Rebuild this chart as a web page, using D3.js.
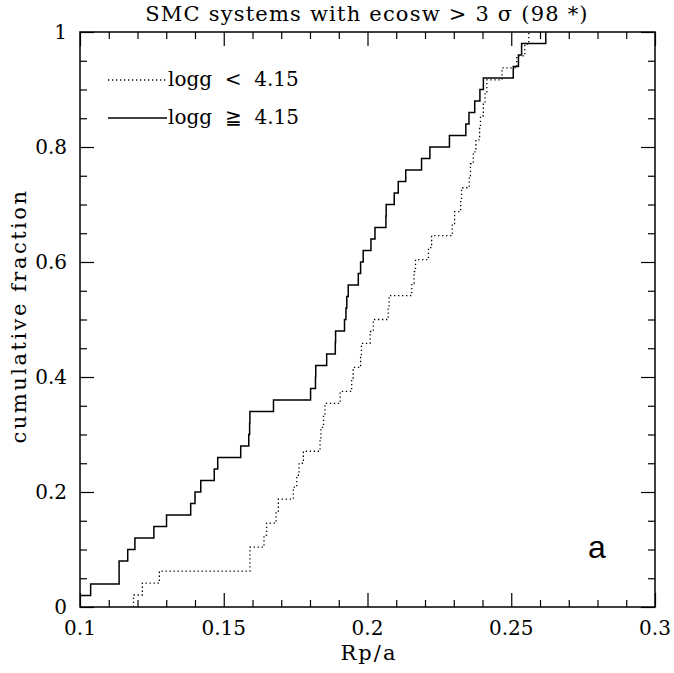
<!DOCTYPE html>
<html>
<head>
<meta charset="utf-8">
<script src="https://cdn.jsdelivr.net/npm/d3@7"></script>
<style>
  html, body { margin: 0; padding: 0; background: #fff; }
  svg text { font-family: "DejaVu Serif", "Liberation Serif", serif; fill: #000; }
</style>
</head>
<body>
<svg id="chart" width="674" height="673"></svg>
<script>
// ---- data ----
const chartTitle = "SMC systems with ecosw > 3 \u03C3 (98 *)";
const xLabel = "Rp/a";
const yLabel = "cumulative fraction";
const panelTag = "a";
const seriesNames = ["logg < 4.15", "logg \u2267 4.15"];

// sorted Rp/a values, logg < 4.15 (48 systems)
const loggLowRpA = [
  0.1186, 0.1217, 0.1276, 0.1591, 0.1591, 0.1640, 0.1649, 0.1682, 0.1690, 0.1742,
  0.1754, 0.1762, 0.1777, 0.1835, 0.1838, 0.1847, 0.1852, 0.1905, 0.1945, 0.1950,
  0.1976, 0.1979, 0.2009, 0.2020, 0.2072, 0.2075, 0.2154, 0.2162, 0.2167, 0.2212,
  0.2223, 0.2295, 0.2303, 0.2324, 0.2327, 0.2354, 0.2358, 0.2368, 0.2377, 0.2390,
  0.2393, 0.2403, 0.2409, 0.2415, 0.2468, 0.2519, 0.2547, 0.2561
];
// sorted Rp/a values, logg >= 4.15 (50 systems)
const loggHighRpA = [
  0.1000, 0.1037, 0.1136, 0.1136, 0.1166, 0.1191, 0.1257, 0.1301, 0.1385, 0.1400,
  0.1420, 0.1467, 0.1479, 0.1559, 0.1587, 0.1590, 0.1591, 0.1673, 0.1802, 0.1819,
  0.1820, 0.1858, 0.1888, 0.1889, 0.1920, 0.1925, 0.1928, 0.1933, 0.1968, 0.1976,
  0.1985, 0.2012, 0.2026, 0.2064, 0.2065, 0.2093, 0.2107, 0.2133, 0.2188, 0.2217,
  0.2285, 0.2342, 0.2353, 0.2373, 0.2391, 0.2403, 0.2507, 0.2525, 0.2536, 0.2620
];

const xMajorTicks = [0.1, 0.15, 0.2, 0.25, 0.3];
const xTickLabels = ["0.1", "0.15", "0.2", "0.25", "0.3"];
const xMinorTicks = [0.11, 0.12, 0.13, 0.14, 0.16, 0.17, 0.18, 0.19, 0.21, 0.22, 0.23, 0.24, 0.26, 0.27, 0.28, 0.29];
const yMajorTicks = [0, 0.2, 0.4, 0.6, 0.8, 1];
const yTickLabels = ["0", "0.2", "0.4", "0.6", "0.8", "1"];
const yMinorTicks = [0.05, 0.1, 0.15, 0.25, 0.3, 0.35, 0.45, 0.5, 0.55, 0.65, 0.7, 0.75, 0.85, 0.9, 0.95];

// ---- layout ----
const L = 80, R = 655, T = 32, B = 607;
const svg = d3.select("#chart");
const x = d3.scaleLinear().domain([0.1, 0.3]).range([L, R]);
const y = d3.scaleLinear().domain([0, 1]).range([B, T]);

svg.append("rect").attr("width", 674).attr("height", 673).attr("fill", "#fff");

svg.append("defs").append("clipPath").attr("id", "plotclip")
  .append("rect").attr("x", L).attr("y", T).attr("width", R - L).attr("height", B - T);

// ---- ticks on all four sides (inward) ----
function addAxis(axis, tx, ty) {
  const g = svg.append("g").attr("transform", `translate(${tx},${ty})`).call(axis);
  g.select(".domain").remove();
  g.selectAll("line").attr("stroke", "#000").attr("stroke-width", 1.2);
  g.selectAll("text").remove();
}
const MAJ = 14, MIN = 7;
addAxis(d3.axisBottom(x).tickValues(xMajorTicks).tickSize(-MAJ), 0, B);
addAxis(d3.axisBottom(x).tickValues(xMinorTicks).tickSize(-MIN), 0, B);
addAxis(d3.axisTop(x).tickValues(xMajorTicks).tickSize(-MAJ), 0, T);
addAxis(d3.axisTop(x).tickValues(xMinorTicks).tickSize(-MIN), 0, T);
addAxis(d3.axisLeft(y).tickValues(yMajorTicks).tickSize(-MAJ), L, 0);
addAxis(d3.axisLeft(y).tickValues(yMinorTicks).tickSize(-MIN), L, 0);
addAxis(d3.axisRight(y).tickValues(yMajorTicks).tickSize(-MAJ), R, 0);
addAxis(d3.axisRight(y).tickValues(yMinorTicks).tickSize(-MIN), R, 0);

// tick labels
svg.append("g").selectAll("text").data(xMajorTicks).join("text")
  .attr("x", d => x(d)).attr("y", 635)
  .attr("text-anchor", "middle").attr("font-size", 20)
  .text((d, i) => xTickLabels[i]);
svg.append("g").selectAll("text").data(yMajorTicks).join("text")
  .attr("x", 67).attr("y", d => y(d) + 7)
  .attr("text-anchor", "end").attr("font-size", 20)
  .text((d, i) => yTickLabels[i]);

// ---- step CDFs ----
function cdfPoints(vals) {
  const n = vals.length;
  const pts = [[vals[0], 0]];
  vals.forEach((v, i) => pts.push([v, (i + 1) / n]));
  return pts;
}
const stepLine = d3.line().x(d => x(d[0])).y(d => y(d[1])).curve(d3.curveStepAfter);

const plot = svg.append("g").attr("clip-path", "url(#plotclip)");
plot.append("path").datum(cdfPoints(loggLowRpA))
  .attr("d", stepLine).attr("fill", "none").attr("stroke", "#000")
  .attr("stroke-width", 1.3).attr("stroke-dasharray", "1.3,2.7");
plot.append("path").datum(cdfPoints(loggHighRpA))
  .attr("d", stepLine).attr("fill", "none").attr("stroke", "#000")
  .attr("stroke-width", 1.5);

// ---- frame ----
svg.append("rect").attr("x", L).attr("y", T).attr("width", R - L).attr("height", B - T)
  .attr("fill", "none").attr("stroke", "#000").attr("stroke-width", 1.5);

// ---- legend ----
const legendY = [80, 118];
const legendDash = ["1.3,2.7", null];
seriesNames.forEach((name, i) => {
  svg.append("line").attr("x1", 108).attr("x2", 167)
    .attr("y1", legendY[i]).attr("y2", legendY[i])
    .attr("stroke", "#000").attr("stroke-width", i === 0 ? 1.3 : 1.5)
    .attr("stroke-dasharray", legendDash[i]);
  svg.append("text").attr("x", 168).attr("y", legendY[i] + 5.5)
    .attr("font-size", 20).attr("xml:space", "preserve")
    .style("white-space", "pre")
    .text(name.replace(/ (\S) /, "  $1  "));
});

// ---- titles ----
svg.append("text").attr("x", 367).attr("y", 21).attr("text-anchor", "middle")
  .attr("font-size", 21).attr("letter-spacing", 1.2).text(chartTitle);
svg.append("text").attr("x", 369).attr("y", 660).attr("text-anchor", "middle")
  .attr("font-size", 21).attr("letter-spacing", 2).text(xLabel);
svg.append("text").attr("transform", "translate(26,316) rotate(-90)")
  .attr("text-anchor", "middle").attr("font-size", 21).attr("letter-spacing", 2.5).text(yLabel);
svg.append("text").attr("x", 588).attr("y", 558)
  .style("font-family", "'Liberation Sans', Arial, sans-serif")
  .attr("font-size", 32).text(panelTag);
</script>
</body>
</html>
